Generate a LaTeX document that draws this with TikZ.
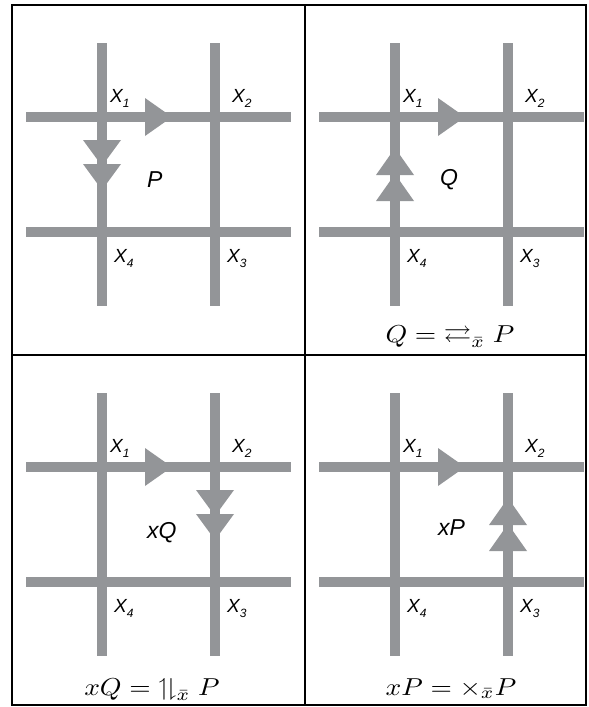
\documentclass[tikz,border=0pt]{standalone}
\usepackage{amsmath}
\usepackage{amssymb}
\usepackage{fontspec}
\setsansfont{Liberation Sans}
\usetikzlibrary{positioning}
\definecolor{wiregray}{RGB}{147,149,152}

\tikzset{
  wire/.style={draw=wiregray, line width=10pt},
  head/.style={fill=wiregray},
  frame/.style={draw=black, line width=2pt},
  sitelabel/.style={font=\sffamily\itshape\fontsize{19}{19}\selectfont, inner sep=0pt, anchor=base west},
  cellname/.style={font=\sffamily\itshape\fontsize{23}{23}\selectfont, inner sep=0pt, anchor=base west},
  ruletext/.style={inner sep=0pt, anchor=base}
}
\newcommand{\site}[1]{X\raisebox{-5pt}{\fontsize{12}{12}\selectfont #1}}
\newcommand{\bigrule}[1]{\scalebox{2.75}[2.45]{$#1$}}
% triangles, tip at the given point
\newcommand{\tipright}[1]{\fill[head] (#1) -- ++(-27,-19) -- ++(0,38) -- cycle;}
\newcommand{\tipdown}[1]{\fill[head] (#1) -- ++(-19,-26) -- ++(38,0) -- cycle;}
\newcommand{\tipup}[1]{\fill[head] (#1) -- ++(-19,27) -- ++(38,0) -- cycle;}

\begin{document}
\begin{tikzpicture}[x=1pt, y=-1pt]
  \useasboundingbox (0,0) rectangle (589,707);

  % four panels of the same grid
  \foreach \p/\dx/\dy in {a/0/0, b/293/0, c/0/350, d/293/350} {
    \begin{scope}[shift={(\dx,\dy)}]
      \coordinate (\p-top1) at (102,43);
      \coordinate (\p-bot1) at (102,306);
      \coordinate (\p-top2) at (215,43);
      \coordinate (\p-bot2) at (215,306);
      \coordinate (\p-lft1) at (26,117);
      \coordinate (\p-rgt1) at (291,117);
      \coordinate (\p-lft2) at (26,232);
      \coordinate (\p-rgt2) at (291,232);
      \draw[wire] (\p-top1) -- (\p-bot1);
      \draw[wire] (\p-top2) -- (\p-bot2);
      \draw[wire] (\p-lft1) -- (\p-rgt1);
      \draw[wire] (\p-lft2) -- (\p-rgt2);
      \coordinate (\p-tip) at (172,117);
      \tipright{\p-tip}
      \node[sitelabel] (\p-x1) at (110,102) {\site{1}};
      \node[sitelabel] (\p-x2) at (232,102) {\site{2}};
      \node[sitelabel] (\p-x4) at (114,262) {\site{4}};
      \node[sitelabel] (\p-x3) at (227,262) {\site{3}};
    \end{scope}
  }

  % double heads on the edges
  \coordinate (a-t1) at (102,166);  \coordinate (a-t2) at (102,190);
  \tipdown{a-t1} \tipdown{a-t2}
  \coordinate (b-t1) at (395,148);  \coordinate (b-t2) at (395,174);
  \tipup{b-t1} \tipup{b-t2}
  \coordinate (c-t1) at (215,516);  \coordinate (c-t2) at (215,540);
  \tipdown{c-t1} \tipdown{c-t2}
  \coordinate (d-t1) at (508,498);  \coordinate (d-t2) at (508,524);
  \tipup{d-t1} \tipup{d-t2}

  % plaquette names
  \node[cellname] (pa) at (147,187) {P};
  \node[cellname] (pb) at (440,185) {Q};
  \node[cellname] (pc) at (147,538) {xQ};
  \node[cellname] (pd) at (438,535) {xP};

  % rules
  \node[ruletext] (rb) at (450,342) {\bigrule{Q={\rightleftarrows}_{\bar{x}}\;P}};
  \node[ruletext] (rc) at (152,695) {\bigrule{xQ={\upharpoonleft}\!{\downharpoonright}_{\bar{x}}\;P}};
  \node[ruletext] (rd) at (451,695) {\bigrule{xP={\times}_{\bar{x}}P}};

  % frame
  \draw[frame] (12,5) rectangle (586,705);
  \draw[frame] (305,5) -- (305,705);
  \draw[frame] (12,355) -- (586,355);
\end{tikzpicture}
\end{document}
